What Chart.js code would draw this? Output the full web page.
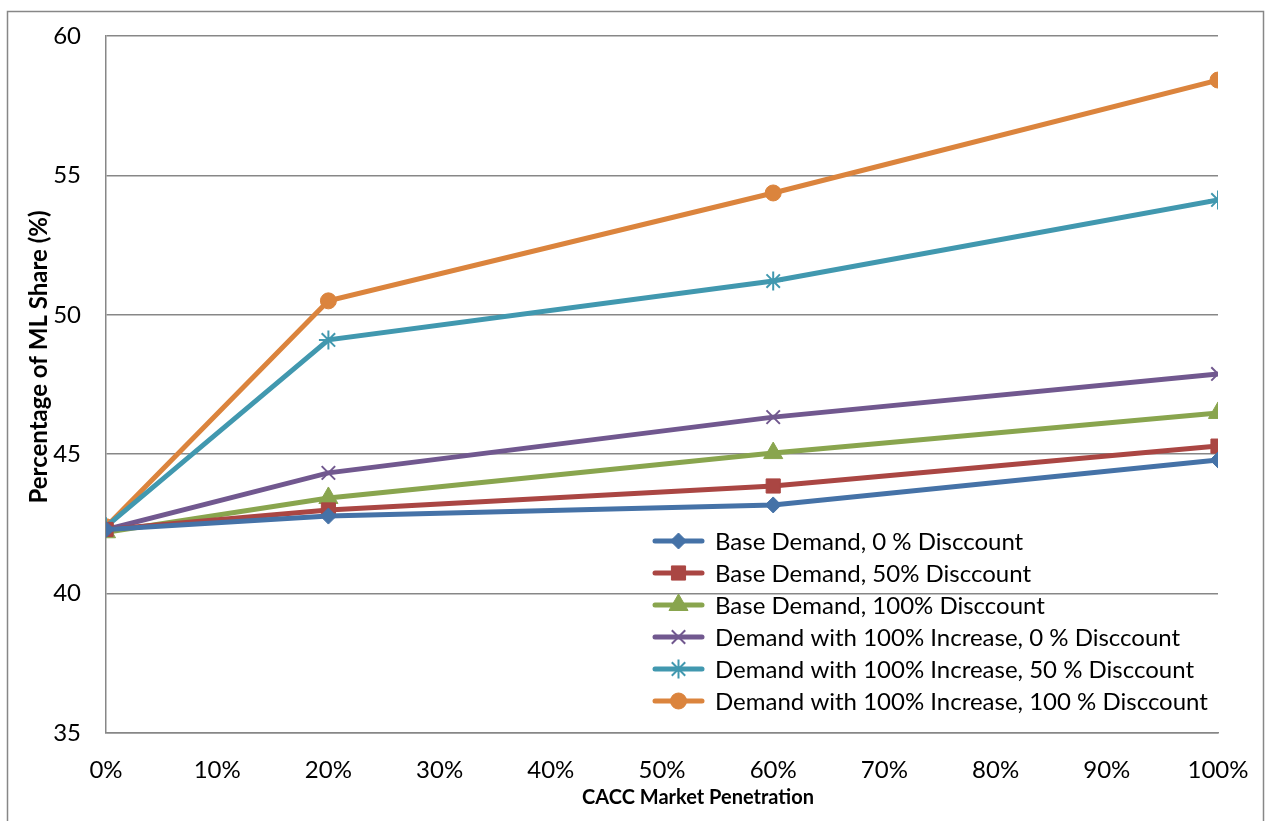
<!DOCTYPE html>
<html>
<head>
<meta charset="utf-8">
<script src="https://cdn.jsdelivr.net/npm/chart.js@4.4.1/dist/chart.umd.min.js"></script>
<style>
  html, body { margin: 0; padding: 0; background: #ffffff; }
  #wrap { width: 1265px; height: 821px; position: relative; }
  canvas { display: block; }
</style>
</head>
<body>
<div id="wrap"><canvas id="c" width="1265" height="821"></canvas></div>
<script>
// ---- Data ----
const penetration = [0, 20, 60, 100];
const xTicks = [0, 10, 20, 30, 40, 50, 60, 70, 80, 90, 100];
const yTicks = [35, 40, 45, 50, 55, 60];
const xTitle = 'CACC Market Penetration';
const yTitle = 'Percentage of ML Share (%)';

const seriesNames = [
  "Base Demand, 0 % Disccount",
  "Base Demand, 50% Disccount",
  "Base Demand, 100% Disccount",
  "Demand with 100% Increase, 0 % Disccount",
  "Demand with 100% Increase, 50 % Disccount",
  "Demand with 100% Increase, 100 % Disccount"
];
const baseDemand0 = [42.30, 42.78, 43.18, 44.79];
const baseDemand50 = [42.30, 43.00, 43.86, 45.29];
const baseDemand100 = [42.20, 43.43, 45.04, 46.48];
const increase0 = [42.30, 44.33, 46.33, 47.88];
const increase50 = [42.40, 49.10, 51.21, 54.12];
const increase100 = [42.40, 50.50, 54.37, 58.42];

const seriesValues = [baseDemand0, baseDemand50, baseDemand100, increase0, increase50, increase100];
const colors = ['#4572A7', '#AA4643', '#89A54E', '#71588F', '#4198AF', '#DB843D'];
const markers = ['rectRot', 'rect', 'triangle', 'crossRot', 'star', 'circle'];
const markerRadius = [8, 10, 11, 9.5, 9.5, 8];

const FONT = "Lato, 'Liberation Sans', sans-serif";
const gridColor = '#878787';

const datasets = seriesNames.map((name, i) => ({
  label: name,
  data: penetration.map((x, j) => ({ x: x, y: seriesValues[i][j] })),
  borderColor: colors[i],
  backgroundColor: colors[i],
  borderWidth: 5,
  pointStyle: markers[i],
  pointRadius: markerRadius[i],
  pointHoverRadius: markerRadius[i],
  pointBorderWidth: (markers[i] === 'crossRot' || markers[i] === 'star') ? 2 : 1,
  pointBorderColor: colors[i],
  pointBackgroundColor: colors[i],
  tension: 0,
  fill: false
}));

function zeroPadding(scale) {
  scale.paddingTop = 0;
  scale.paddingBottom = 0;
  scale.paddingLeft = 0;
  scale.paddingRight = 0;
}

const framePlugin = {
  id: 'frame',
  beforeDraw(chart) {
    const ctx = chart.ctx;
    ctx.save();
    ctx.fillStyle = '#ffffff';
    ctx.fillRect(0, 0, chart.width, chart.height);
    ctx.strokeStyle = gridColor;
    ctx.lineWidth = 1.5;
    ctx.strokeRect(7.5, 11.5, 1256, 830);
    ctx.restore();
  },
  afterDraw(chart) {
    const ctx = chart.ctx;
    ctx.save();
    ctx.fillStyle = '#000000';
    ctx.font = "bold 20px " + FONT;
    ctx.textAlign = 'center';
    ctx.textBaseline = 'middle';
    ctx.fillText(xTitle, 698, 798);
    ctx.font = "bold 24px " + FONT;
    ctx.translate(39, 357);
    ctx.rotate(-Math.PI / 2);
    ctx.fillText(yTitle, 0, 0);
    ctx.restore();
  }
};

const legendPlugin = {
  id: 'insideLegend',
  afterDatasetsDraw(chart) {
    const ctx = chart.ctx;
    const x0 = 655, x1 = 702, textX = 715;
    const y0 = 541, step = 32;
    ctx.save();
    chart.data.datasets.forEach((ds, i) => {
      const y = y0 + i * step;
      ctx.strokeStyle = ds.borderColor;
      ctx.lineWidth = 5;
      ctx.lineCap = 'round';
      ctx.beginPath();
      ctx.moveTo(x0, y);
      ctx.lineTo(x1, y);
      ctx.stroke();
      ctx.lineCap = 'butt';
      ctx.fillStyle = ds.backgroundColor;
      ctx.strokeStyle = ds.borderColor;
      ctx.lineWidth = ds.pointBorderWidth;
      Chart.helpers.drawPoint(ctx, {
        pointStyle: ds.pointStyle,
        radius: ds.pointRadius,
        borderWidth: ds.pointBorderWidth,
        rotation: 0
      }, (x0 + x1) / 2, y);
      ctx.fillStyle = '#000000';
      ctx.font = "24px " + FONT;
      ctx.textBaseline = 'middle';
      ctx.textAlign = 'left';
      ctx.fillText(ds.label, textX, y + 1);
    });
    ctx.restore();
  }
};

new Chart(document.getElementById('c'), {
  type: 'line',
  data: { datasets: datasets },
  plugins: [framePlugin, legendPlugin],
  options: {
    responsive: false,
    animation: false,
    layout: { padding: { left: 0, top: 36, right: 47, bottom: 0 } },
    plugins: {
      legend: { display: false },
      tooltip: { enabled: false },
      title: { display: false }
    },
    scales: {
      x: {
        type: 'linear',
        min: 0,
        max: 100,
        afterBuildTicks(scale) { scale.ticks = xTicks.map(v => ({ value: v })); },
        afterFit(scale) { scale.height = 88; zeroPadding(scale); },
        ticks: {
          color: '#000000',
          font: { family: FONT, size: 24 },
          padding: 23,
          maxRotation: 0,
          autoSkip: false,
          callback: (v) => v + '%'
        },
        grid: { display: false, drawTicks: false },
        border: { display: true, color: gridColor, width: 1.5 },
        title: { display: false }
      },
      y: {
        type: 'linear',
        min: 35,
        max: 60,
        afterBuildTicks(scale) { scale.ticks = yTicks.map(v => ({ value: v })); },
        afterFit(scale) { scale.width = 106; zeroPadding(scale); },
        ticks: {
          color: '#000000',
          font: { family: FONT, size: 24 },
          padding: 25
        },
        grid: { display: true, color: gridColor, lineWidth: 1.5, drawTicks: false },
        border: { display: true, color: gridColor, width: 1.5 },
        title: { display: false }
      }
    }
  }
});
</script>
</body>
</html>
